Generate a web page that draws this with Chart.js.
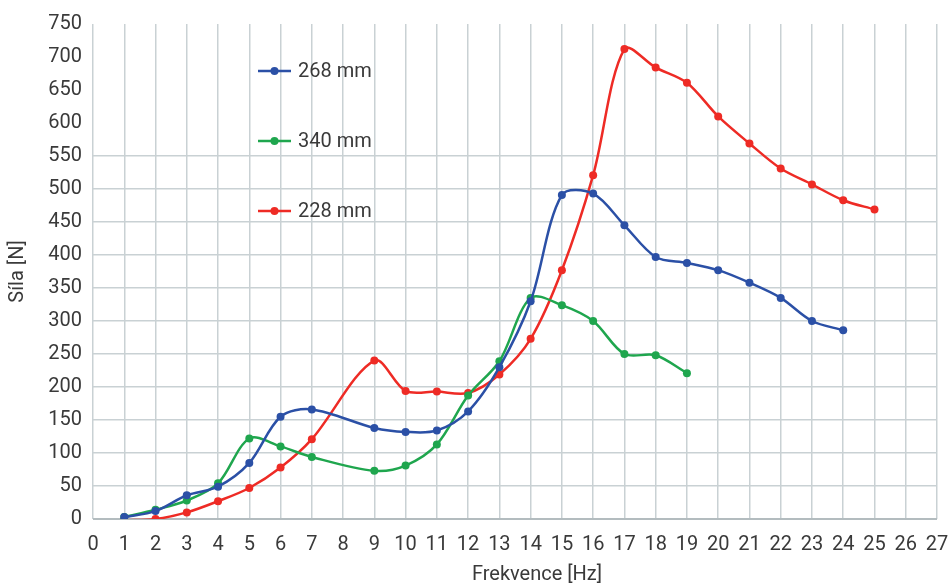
<!DOCTYPE html>
<html>
<head>
<meta charset="utf-8">
<script src="https://cdn.jsdelivr.net/npm/chart.js@4/dist/chart.umd.min.js"></script>
<style>
  html, body { margin: 0; padding: 0; background: #ffffff; }
  #wrap { width: 949px; height: 585px; }
</style>
</head>
<body>
<div id="wrap"><canvas id="c" width="949" height="585"></canvas></div>
<script>
// Frequencies [Hz] and measured force [N] for each rod length
const freq268 = [1, 2, 3, 4, 5, 6, 7, 9, 10, 11, 12, 13, 14, 15, 16, 17, 18, 19, 20, 21, 22, 23, 24];
const force268 = [3, 12, 36, 49, 85, 155, 166, 138, 132, 134, 163, 230, 330, 491, 493, 445, 397, 388, 377, 358, 335, 300, 286];

const freq340 = [1, 2, 3, 4, 5, 6, 7, 9, 10, 11, 12, 13, 14, 15, 16, 17, 18, 19];
const force340 = [3, 14, 28, 54, 122, 110, 94, 73, 81, 113, 187, 239, 335, 324, 300, 250, 248, 221];

const freq228 = [1, 2, 3, 4, 5, 6, 7, 9, 10, 11, 12, 13, 14, 15, 16, 17, 18, 19, 20, 21, 22, 23, 24, 25];
const force228 = [-2, 0, 10, 27, 47, 78, 121, 240, 194, 193, 191, 219, 273, 377, 521, 712, 684, 661, 610, 569, 531, 507, 483, 469];

const seriesLabels = ['268 mm', '340 mm', '228 mm'];
const xTitle = 'Frekvence [Hz]';
const yTitle = 'Síla [N]';
const xTicks = { min: 0, max: 27, step: 1 };
const yTicks = { min: 0, max: 750, step: 50 };

const COLORS = ['#2b50a6', '#1fa64e', '#ee2b25'];
const TEXT = '#3a3a3a';
const GRID = '#c9d1d4';
const FONT = 'Roboto, "Liberation Sans", sans-serif';
const WEIGHT = 400;

function pairs(xs, ys) { return xs.map((x, i) => ({ x: x, y: ys[i] })); }

function series(label, xs, ys, color) {
  return {
    label: label,
    data: pairs(xs, ys),
    borderColor: color,
    backgroundColor: color,
    borderWidth: 2.5,
    pointRadius: 4,
    pointHoverRadius: 4,
    pointBorderWidth: 0,
    tension: 0.32,
    fill: false
  };
}

// Legend inside the plot (one row per dataset) and the x-axis title under the ticks
const annotations = {
  id: 'annotations',
  afterDatasetsDraw(chart) {
    const ctx = chart.ctx;
    const rows = [71, 141, 211];
    ctx.save();
    ctx.font = WEIGHT + ' 20px ' + FONT;
    ctx.textBaseline = 'middle';
    chart.data.datasets.forEach((ds, i) => {
      const y = rows[i];
      ctx.strokeStyle = ds.borderColor;
      ctx.lineWidth = 2.5;
      ctx.beginPath();
      ctx.moveTo(258, y);
      ctx.lineTo(291, y);
      ctx.stroke();
      ctx.fillStyle = ds.borderColor;
      ctx.beginPath();
      ctx.arc(274.5, y, 4, 0, Math.PI * 2);
      ctx.fill();
      ctx.fillStyle = TEXT;
      ctx.textAlign = 'left';
      ctx.fillText(ds.label, 298, y + 1);
    });
    ctx.fillStyle = TEXT;
    ctx.textAlign = 'center';
    ctx.fillText(xTitle, 537, 575);
    ctx.restore();
  }
};

new Chart(document.getElementById('c'), {
  type: 'line',
  data: {
    datasets: [
      series(seriesLabels[0], freq268, force268, COLORS[0]),
      series(seriesLabels[1], freq340, force340, COLORS[1]),
      series(seriesLabels[2], freq228, force228, COLORS[2])
    ]
  },
  options: {
    responsive: false,
    animation: false,
    layout: { padding: { top: 24, right: 12, bottom: 0, left: 0 } },
    plugins: {
      legend: { display: false },
      tooltip: { enabled: false }
    },
    scales: {
      x: {
        type: 'linear',
        min: xTicks.min,
        max: xTicks.max,
        afterFit(scale) {
          scale.height = 66;
          scale.paddingLeft = 0;
          scale.paddingRight = 0;
        },
        border: { display: false },
        grid: { color: GRID, lineWidth: 1.5, drawTicks: false },
        ticks: {
          stepSize: xTicks.step,
          padding: 14,
          color: TEXT,
          font: { family: FONT, size: 20, weight: WEIGHT },
          maxRotation: 0,
          autoSkip: false
        }
      },
      y: {
        type: 'linear',
        min: yTicks.min,
        max: yTicks.max,
        afterFit(scale) {
          scale.width = 93;
          scale.paddingTop = 0;
          scale.paddingBottom = 0;
        },
        border: { display: false },
        grid: {
          drawTicks: false,
          lineWidth: (c) => (c.tick && c.tick.value === 0 ? 2 : 1.5),
          color: (c) => {
            if (!c.tick) return GRID;
            if (c.tick.value === 0) return '#b3bcbf';
            return c.tick.value > 550 ? 'rgba(0,0,0,0)' : GRID;
          }
        },
        ticks: {
          stepSize: yTicks.step,
          padding: 11,
          color: TEXT,
          font: { family: FONT, size: 20, weight: WEIGHT }
        },
        title: {
          display: true,
          text: yTitle,
          color: TEXT,
          font: { family: FONT, size: 20, weight: WEIGHT },
          padding: { top: 6, bottom: 0 }
        }
      }
    }
  },
  plugins: [annotations]
});
</script>
</body>
</html>
